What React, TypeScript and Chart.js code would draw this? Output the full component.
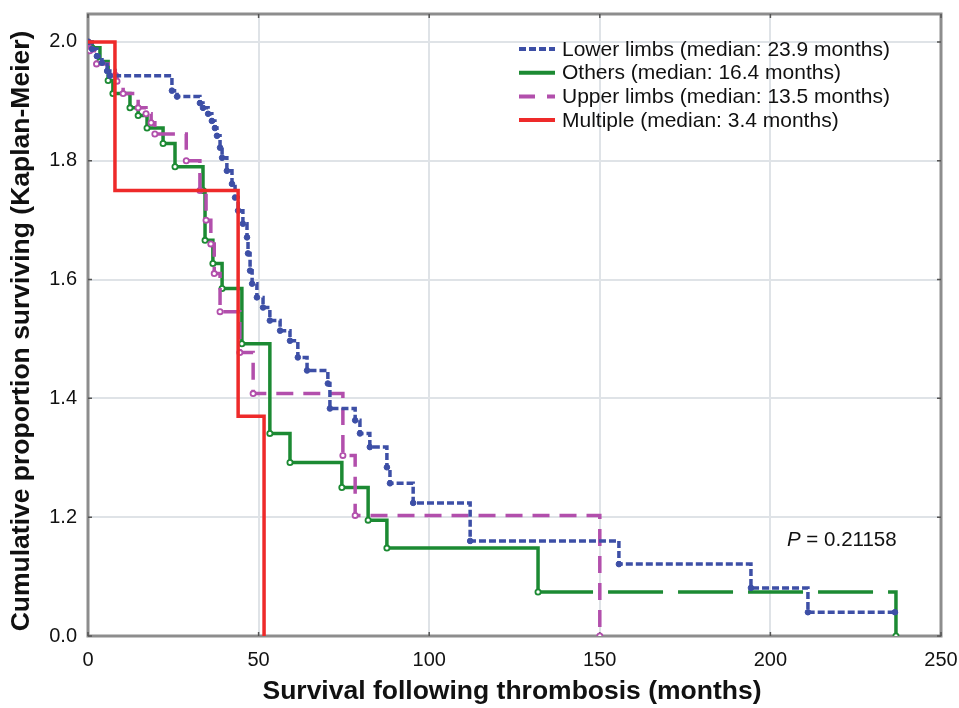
import React, { useEffect, useRef } from 'react';
import { Chart, registerables } from 'chart.js';

Chart.register(...registerables);

// ---- Data ----
const xTickValues = [0, 50, 100, 150, 200, 250];
const yTickValues = [0, 0.2, 0.4, 0.6, 0.8, 1.0];
const yTickLabels = ['0.0', '1.2', '1.4', '1.6', '1.8', '2.0'];

const lowerT = [0, 1.2, 2.6, 4.1, 5.6, 6.4, 24.6, 26.1, 32.8, 33.7, 35.2, 36.3, 37.2, 37.8, 38.7, 39.3, 40.7, 42.2, 43.1, 44.0, 45.4, 46.6, 46.9, 47.5, 48.1, 49.5, 51.3, 53.3, 56.3, 59.2, 61.5, 64.2, 70.3, 70.9, 78.3, 79.7, 82.6, 87.6, 88.5, 95.3, 112, 155.6, 194.3, 211, 236.5];
const lowerS = [1, 0.988, 0.976, 0.965, 0.951, 0.943, 0.918, 0.908, 0.897, 0.889, 0.879, 0.867, 0.855, 0.842, 0.822, 0.805, 0.783, 0.761, 0.738, 0.716, 0.694, 0.671, 0.644, 0.615, 0.593, 0.570, 0.553, 0.531, 0.514, 0.497, 0.469, 0.447, 0.425, 0.383, 0.363, 0.341, 0.318, 0.284, 0.257, 0.224, 0.160, 0.121, 0.081, 0.040, 0.040];

const othersT = [0, 1.2, 3.5, 5.9, 7.3, 12.3, 14.7, 17.3, 22, 25.5, 33.7, 34.3, 36.6, 39.3, 45.1, 53.3, 59.2, 74.4, 82.1, 87.6, 131.9, 236.8];
const othersS = [1, 0.99, 0.967, 0.935, 0.913, 0.889, 0.876, 0.855, 0.829, 0.79, 0.75, 0.666, 0.627, 0.585, 0.492, 0.341, 0.292, 0.25, 0.195, 0.148, 0.074, 0];

const upperT = [0, 0.5, 2.5, 8, 8.5, 10.3, 14.7, 17, 18.5, 19.6, 28.8, 32.8, 34.6, 36, 37, 38.7, 44.5, 48.4, 74.7, 78.3, 150];
const upperS = [1, 0.985, 0.963, 0.944, 0.934, 0.913, 0.889, 0.879, 0.864, 0.845, 0.8, 0.75, 0.70, 0.66, 0.61, 0.546, 0.477, 0.408, 0.304, 0.203, 0];

const multT = [0, 7.9, 44, 51.6];
const multS = [1, 0.75, 0.37, 0];

const seriesNames = [
  'Lower limbs (median: 23.9 months)',
  'Others (median: 16.4 months)',
  'Upper limbs (median: 13.5 months)',
  'Multiple (median: 3.4 months)',
];
const pLabel = 'P';
const pValueText = ' = 0.21158';
const xTitle = 'Survival following thrombosis (months)';
const yTitle = 'Cumulative proportion surviving (Kaplan-Meier)';

const COLORS = ['#3d4fa6', '#1c8a33', '#b24fac', '#ee2a2a'];
const DASHES: number[][] = [[7, 3], [], [17, 10], []];
const FONT = '"Liberation Sans", Arial, sans-serif';

function pts(t: number[], s: number[]) {
  return t.map((x, i) => ({ x, y: s[i] }));
}

export default function App() {
  const ref = useRef<HTMLCanvasElement | null>(null);

  useEffect(() => {
    if (!ref.current) return;

    const framePlugin = {
      id: 'frame',
      beforeDatasetsDraw(chart: any) {
        const { ctx, chartArea: a } = chart;
        ctx.save();
        ctx.strokeStyle = '#8d8d8d';
        ctx.lineWidth = 3;
        ctx.strokeRect(a.left, a.top, a.right - a.left, a.bottom - a.top);
        ctx.strokeStyle = '#555';
        ctx.lineWidth = 1.5;
        const xs = chart.scales.x;
        const ys = chart.scales.y;
        xTickValues.forEach((v) => {
          const px = xs.getPixelForValue(v);
          ctx.beginPath();
          ctx.moveTo(px, a.bottom);
          ctx.lineTo(px, a.bottom - 4);
          ctx.moveTo(px, a.top);
          ctx.lineTo(px, a.top + 4);
          ctx.stroke();
        });
        yTickValues.forEach((v) => {
          const py = ys.getPixelForValue(v);
          ctx.beginPath();
          ctx.moveTo(a.left, py);
          ctx.lineTo(a.left + 4, py);
          ctx.moveTo(a.right, py);
          ctx.lineTo(a.right - 4, py);
          ctx.stroke();
        });
        ctx.restore();
      },
      afterDraw(chart: any) {
        const { ctx } = chart;
        ctx.save();
        ctx.fillStyle = '#111';
        ctx.font = `bold 26.5px ${FONT}`;
        ctx.textAlign = 'center';
        ctx.textBaseline = 'middle';
        ctx.fillText(xTitle, 512, 692);
        ctx.save();
        ctx.translate(22, 331);
        ctx.rotate(-Math.PI / 2);
        ctx.fillText(yTitle, 0, 0);
        ctx.restore();
        ctx.restore();
      },
    };

    const legendPlugin = {
      id: 'kmLegend',
      afterDatasetsDraw(chart: any) {
        const { ctx } = chart;
        ctx.save();
        ctx.font = `21px ${FONT}`;
        ctx.textBaseline = 'middle';
        ctx.textAlign = 'left';
        seriesNames.forEach((name, i) => {
          const y = 49 + i * 23.7;
          ctx.strokeStyle = COLORS[i];
          ctx.lineWidth = 4;
          ctx.setLineDash(i === 2 ? [16, 12] : DASHES[i]);
          ctx.beginPath();
          ctx.moveTo(519, y);
          ctx.lineTo(555, y);
          ctx.stroke();
          ctx.setLineDash([]);
          ctx.fillStyle = '#111';
          ctx.fillText(name, 562, y + 1);
        });
        ctx.font = `italic 20.5px ${FONT}`;
        ctx.fillText(pLabel, 787, 540);
        const w = ctx.measureText(pLabel).width;
        ctx.font = `20.5px ${FONT}`;
        ctx.fillText(pValueText, 787 + w, 540);
        ctx.restore();
      },
    };

    const chart = new Chart(ref.current, {
      type: 'line',
      data: {
        datasets: [
          {
            label: seriesNames[3],
            data: pts(multT, multS),
            borderColor: COLORS[3],
            backgroundColor: COLORS[3],
            borderWidth: 3.5,
            stepped: 'before',
            pointRadius: 0,
            order: 0,
          },
          {
            label: seriesNames[0],
            data: pts(lowerT, lowerS),
            borderColor: COLORS[0],
            backgroundColor: COLORS[0],
            borderWidth: 3.5,
            borderDash: DASHES[0],
            stepped: 'before',
            pointRadius: 2.8,
            pointBackgroundColor: COLORS[0],
            pointBorderColor: COLORS[0],
            pointBorderWidth: 1,
            order: 1,
          },
          {
            label: seriesNames[1],
            data: pts(othersT, othersS),
            borderColor: COLORS[1],
            backgroundColor: COLORS[1],
            borderWidth: 3.5,
            borderDash: DASHES[1],
            stepped: 'before',
            pointRadius: 2.6,
            pointBackgroundColor: '#ffffff',
            pointBorderColor: COLORS[1],
            pointBorderWidth: 1.8,
            segment: {
              borderDash: (ctx: any) => (ctx.p0.parsed.x > 130 ? [55, 15] : undefined),
            },
            order: 3,
          },
          {
            label: seriesNames[2],
            data: pts(upperT, upperS),
            borderColor: COLORS[2],
            backgroundColor: COLORS[2],
            borderWidth: 3.5,
            borderDash: DASHES[2],
            stepped: 'before',
            pointRadius: 2.6,
            pointBackgroundColor: '#ffffff',
            pointBorderColor: COLORS[2],
            pointBorderWidth: 1.8,
            order: 2,
          },
        ],
      },
      options: {
        responsive: false,
        animation: false,
        devicePixelRatio: 1,
        layout: { padding: { top: 14, right: 18, left: 0, bottom: 0 } },
        plugins: {
          legend: { display: false },
          tooltip: { enabled: false },
        },
        scales: {
          x: {
            type: 'linear',
            min: 0,
            max: 250,
            afterBuildTicks: (scale: any) => {
              scale.ticks = xTickValues.map((v) => ({ value: v }));
            },
            afterFit: (scale: any) => {
              scale.height = 72;
              scale.paddingLeft = 0;
              scale.paddingRight = 0;
            },
            ticks: {
              color: '#111',
              font: { family: FONT, size: 20 },
              padding: 12,
              maxRotation: 0,
              callback: (v: any) => String(v),
            },
            grid: { color: '#dfe3e7', lineWidth: 2, drawTicks: false },
            border: { display: false },
          },
          y: {
            type: 'linear',
            min: 0,
            max: 1.047,
            afterBuildTicks: (scale: any) => {
              scale.ticks = yTickValues.map((v) => ({ value: v }));
            },
            afterFit: (scale: any) => {
              scale.width = 88;
              scale.paddingTop = 0;
              scale.paddingBottom = 0;
            },
            ticks: {
              color: '#111',
              font: { family: FONT, size: 20 },
              padding: 11,
              callback: (_v: any, i: number) => yTickLabels[i],
            },
            grid: { color: '#dfe3e7', lineWidth: 2, drawTicks: false },
            border: { display: false },
          },
        },
      },
      plugins: [framePlugin, legendPlugin],
    } as any);

    return () => chart.destroy();
  }, []);

  return (
    <div style={{ position: 'fixed', left: 0, top: 0, width: 959, height: 708, background: '#fff' }}>
      <canvas ref={ref} width={959} height={708} style={{ display: 'block' }} />
    </div>
  );
}
